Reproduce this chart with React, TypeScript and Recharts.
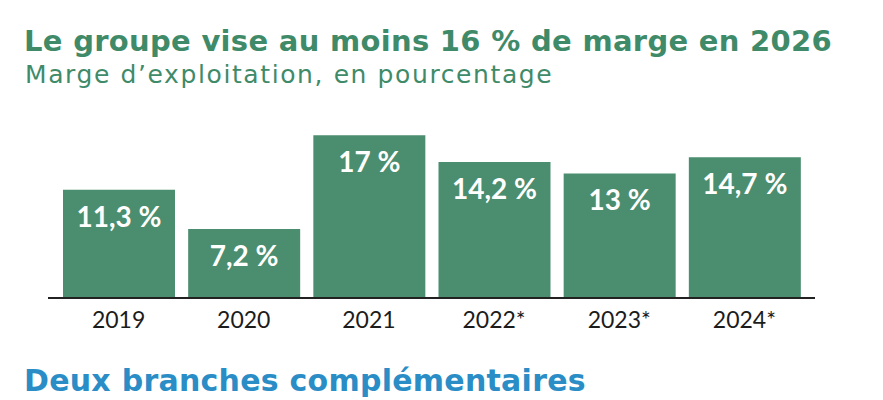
import React from "react";
import { BarChart, Bar, XAxis, YAxis, LabelList } from "recharts";

const years = ["2019", "2020", "2021", "2022*", "2023*", "2024*"];
const margins = [11.3, 7.2, 17, 14.2, 13, 14.7];
const valueLabels = ["11,3 %", "7,2 %", "17 %", "14,2 %", "13 %", "14,7 %"];

const data = years.map((y, i) => ({ year: y, value: margins[i], label: valueLabels[i] }));

const GREEN = "#4b8d6f";
const TITLE_GREEN = "#3f8b69";
const BLUE = "#2a8dc6";
const FONT = "Lato, 'Noto Sans', sans-serif";
const HEAD_FONT = "'DejaVu Sans', sans-serif";

const Tick = (props: any) => {
  const { x, y, payload } = props;
  return (
    <text x={x} y={y} dy={22} textAnchor="middle" fill="#1c1c1c" fontSize={23} fontFamily={FONT}>
      {payload.value}
    </text>
  );
};

const ValueLabel = (props: any) => {
  const { x, y, width, value } = props;
  return (
    <text
      x={x + width / 2}
      y={y + 26}
      textAnchor="middle"
      dominantBaseline="central"
      fill="#ffffff"
      fontSize={28}
      fontWeight={700}
      fontFamily={FONT}
    >
      {value}
    </text>
  );
};

export default function App() {
  return (
    <div style={{ position: "absolute", left: 0, top: 0, width: 883, height: 400, background: "#fff", overflow: "hidden", fontFamily: HEAD_FONT }}>
      <div style={{ position: "absolute", left: 24, top: 21, color: TITLE_GREEN, fontSize: 29, fontWeight: 700, whiteSpace: "nowrap", lineHeight: "40px", letterSpacing: 0.3 }}>
        Le groupe vise au moins 16 % de marge en 2026
      </div>
      <div style={{ position: "absolute", left: 25, top: 58, color: TITLE_GREEN, fontSize: 25, fontWeight: 400, whiteSpace: "nowrap", lineHeight: "34px", letterSpacing: 1.6 }}>
        Marge d’exploitation, en pourcentage
      </div>
      <div style={{ position: "absolute", left: 0, top: 0 }}>
        <BarChart width={883} height={400} data={data} margin={{ top: 125.6, right: 68, bottom: 72, left: 48 }}>
          <YAxis hide domain={[0, 18]} />
          <XAxis
            dataKey="year"
            height={30}
            padding={{ left: 8, right: 8 }}
            axisLine={{ stroke: "#222", strokeWidth: 2 }}
            tickLine={false}
            tick={<Tick />}
            interval={0}
          />
          <Bar dataKey="value" fill={GREEN} barSize={112} isAnimationActive={false}>
            <LabelList dataKey="label" content={<ValueLabel />} />
          </Bar>
        </BarChart>
      </div>
      <div style={{ position: "absolute", left: 24, top: 361, color: BLUE, fontSize: 30, fontWeight: 700, whiteSpace: "nowrap", lineHeight: "40px", letterSpacing: 0.25 }}>
        Deux branches complémentaires
      </div>
    </div>
  );
}
